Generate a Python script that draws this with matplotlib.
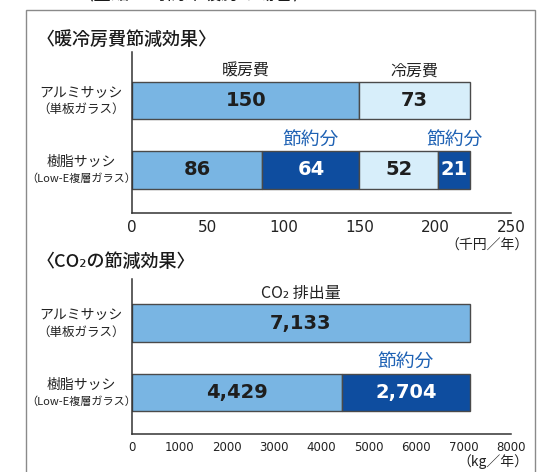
import matplotlib.pyplot as plt
from matplotlib.patches import Rectangle

plt.rcParams['font.family'] = ['Noto Sans CJK JP', 'DejaVu Sans']

# --- Data ---------------------------------------------------------------------
sash_names = ['アルミサッシ', '樹脂サッシ']
sash_glass = ['（単板ガラス）', '（Low-E複層ガラス）']

# 暖冷房費 (千円/年)
heating = [150, 86]
heating_saved = [0, 64]
cooling = [73, 52]
cooling_saved = [0, 21]
cost_ticks = [0, 50, 100, 150, 200, 250]

# CO2 排出量 (kg/年)
co2 = [7133, 4429]
co2_saved = [0, 2704]
co2_ticks = [0, 1000, 2000, 3000, 4000, 5000, 6000, 7000, 8000]

LIGHT = '#79B5E3'
PALE = '#D7EEFA'
DARK = '#0E4D9F'
EDGE = '#4a4a4a'
BLUE_TXT = '#1f62b4'
NUM_FONT = 'DejaVu Sans'

W, H = 542, 472
fig = plt.figure(figsize=(W / 100, H / 100), dpi=100)


def px_axes(x0, y0, x1, y1):
    return fig.add_axes([x0 / W, 1 - y1 / H, (x1 - x0) / W, (y1 - y0) / H])


# outer frame
fig.patches.append(Rectangle((26 / W, -0.1), (535 - 26) / W, 1 - 10 / H + 0.1,
                             transform=fig.transFigure, fill=False,
                             edgecolor='#8a8a8a', linewidth=1))

# title above the frame, mostly cut off at the top edge (as in the source)
fig.text(75 / W, 1 + 1 / H, '〈全館24時間冷暖房の場合〉', fontsize=13,
         va='baseline', ha='left', color='#1a1a1a')

fig.text(37 / W, 1 - 40 / H, '〈暖冷房費節減効果〉', fontsize=13, va='center',
         ha='left', fontweight='medium', color='#1a1a1a')
fig.text(37 / W, 1 - 262 / H, '〈CO₂の節減効果〉', fontsize=13, va='center',
         ha='left', fontweight='medium', color='#1a1a1a')


def style(ax, xmax, ticks, ticksize, unit, unit_y, top, bottom):
    ax.set_xlim(0, xmax)
    ax.set_ylim(bottom, top)
    for s in ['top', 'right']:
        ax.spines[s].set_visible(False)
    for s in ['left', 'bottom']:
        ax.spines[s].set_color('#333333')
        ax.spines[s].set_linewidth(1.1)
    ax.set_yticks([])
    ax.set_xticks(ticks)
    ax.set_xticklabels([str(t) for t in ticks], fontsize=ticksize,
                       color='#222222', fontfamily=NUM_FONT)
    ax.tick_params(axis='x', length=0, pad=5)
    ax.text(1.047, unit_y, unit, transform=ax.transAxes, ha='right', va='center',
            fontsize=10, color='#222222')
    ax.patch.set_alpha(0)


def seg(ax, y, left, width, color, label, txtcolor):
    ax.barh(y, width, left=left, height=0.54, color=color, edgecolor=EDGE,
            linewidth=1)
    ax.text(left + width / 2, y, label, ha='center', va='center',
            fontsize=14, fontweight='bold', color=txtcolor, fontfamily=NUM_FONT)


def saved_label(ax, x, y):
    ax.text(x, y - 0.43, '節約分', ha='center', va='center', fontsize=13.5,
            color=BLUE_TXT)


def row_labels(ax, y):
    for i in range(2):
        ax.text(-0.135, y[i] - 0.11, sash_names[i], transform=ax.get_yaxis_transform(),
                ha='center', va='center', fontsize=10, color='#222222')
        ax.text(-0.135, y[i] + 0.13, sash_glass[i], transform=ax.get_yaxis_transform(),
                ha='center', va='center', fontsize=9 if i == 0 else 8,
                color='#222222')


rows = [0, 1]

# --- Top chart: cost ----------------------------------------------------------
ax1 = px_axes(132, 52, 511, 213)
style(ax1, 250, cost_ticks, 11, '（千円／年）', -0.2, -0.698, 1.619)
for i in rows:
    x = 0
    seg(ax1, i, x, heating[i], LIGHT, str(heating[i]), '#1e1e1e')
    x += heating[i]
    if heating_saved[i]:
        seg(ax1, i, x, heating_saved[i], DARK, str(heating_saved[i]), 'white')
        saved_label(ax1, x + heating_saved[i] / 2, i)
        x += heating_saved[i]
    seg(ax1, i, x, cooling[i], PALE, str(cooling[i]), '#1e1e1e')
    if i == 0:
        ax1.text(heating[0] / 2, i - 0.42, '暖房費', ha='center', va='center',
                 fontsize=11.5, color='#222222')
        ax1.text(x + cooling[0] / 2, i - 0.42, '冷房費', ha='center', va='center',
                 fontsize=11.5, color='#222222')
    x += cooling[i]
    if cooling_saved[i]:
        seg(ax1, i, x, cooling_saved[i], DARK, str(cooling_saved[i]), 'white')
        saved_label(ax1, x + cooling_saved[i] / 2, i)
row_labels(ax1, rows)

# --- Bottom chart: CO2 --------------------------------------------------------
ax2 = px_axes(132, 279, 511, 434)
style(ax2, 8000, co2_ticks, 8.5, '（kg／年）', -0.175, -0.635, 1.6)
for i in rows:
    seg(ax2, i, 0, co2[i], LIGHT, f'{co2[i]:,}', '#1e1e1e')
    if co2_saved[i]:
        seg(ax2, i, co2[i], co2_saved[i], DARK, f'{co2_saved[i]:,}', 'white')
        saved_label(ax2, co2[i] + co2_saved[i] / 2, i)
ax2.text(co2[0] / 2, -0.42, 'CO₂ 排出量', ha='center', va='center',
         fontsize=11.5, color='#222222')
row_labels(ax2, rows)

fig.savefig('out.png', dpi=100)
plt.close(fig)
